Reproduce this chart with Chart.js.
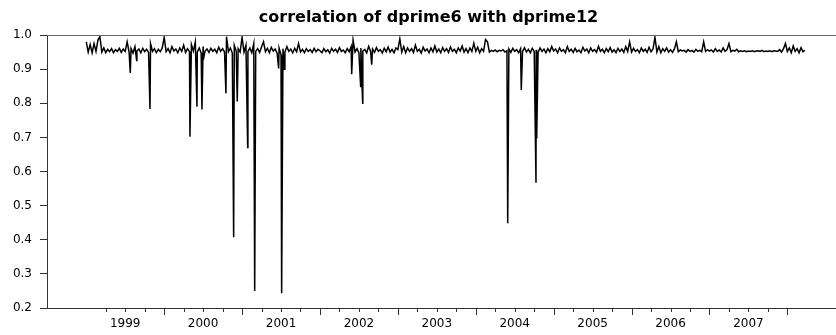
<!DOCTYPE html>
<html>
<head>
<meta charset="utf-8">
<title>correlation of dprime6 with dprime12</title>
<script src="https://cdn.jsdelivr.net/npm/chart.js@4.4.1/dist/chart.umd.min.js"></script>
<style>
  html, body { margin: 0; padding: 0; background: #fff; }
  #wrap { width: 836px; height: 335px; }
</style>
</head>
<body>
<div id="wrap"><canvas id="corr-chart" width="836" height="335"></canvas></div>
<script>
// correlation band, one value per 0.025 year
const bandStep = 0.025;
const band1999 = [0.980,0.950,0.972,0.948,0.975,0.952,0.985,0.995,0.950,0.962,0.948,0.958,0.951,0.960,0.948,0.957,0.952,0.961,0.949,0.959,0.952,0.980,0.950,0.960,0.947,0.966,0.953,0.959,0.948,0.961,0.951,0.958,0.949,0.975,0.952,0.960,0.948,0.958,0.951,0.962];
const band2000 = [0.993,0.951,0.960,0.948,0.966,0.953,0.959,0.948,0.962,0.952,0.970,0.949,0.960,0.951,0.972,0.953,0.980,0.950,0.962,0.947,0.966,0.953,0.959,0.949,0.961,0.952,0.958,0.948,0.964,0.952,0.960,0.950,0.995,0.951,0.962,0.947,0.970,0.953,0.960,0.950];
const band2001 = [0.993,0.950,0.970,0.951,0.962,0.948,0.975,0.952,0.960,0.949,0.965,0.980,0.951,0.961,0.948,0.964,0.953,0.959,0.947,0.962,0.942,0.960,0.950,0.966,0.952,0.959,0.948,0.961,0.951,0.975,0.950,0.958,0.948,0.960,0.952,0.957,0.949,0.961,0.951,0.958];
const band2002 = [0.954,0.948,0.960,0.951,0.957,0.947,0.961,0.952,0.958,0.949,0.963,0.952,0.956,0.948,0.960,0.951,0.966,0.985,0.950,0.960,0.948,0.962,0.953,0.958,0.948,0.967,0.952,0.959,0.949,0.963,0.952,0.957,0.947,0.961,0.951,0.965,0.950,0.958,0.948,0.962];
const band2003 = [0.957,0.989,0.950,0.966,0.948,0.962,0.952,0.960,0.949,0.970,0.952,0.958,0.947,0.964,0.953,0.959,0.948,0.962,0.951,0.968,0.950,0.959,0.948,0.963,0.952,0.960,0.949,0.965,0.952,0.958,0.948,0.962,0.953,0.968,0.950,0.960,0.948,0.962,0.952,0.976];
const band2004 = [0.952,0.964,0.948,0.960,0.952,0.987,0.980,0.950,0.955,0.952,0.956,0.951,0.955,0.953,0.957,0.950,0.954,0.959,0.949,0.961,0.952,0.957,0.948,0.960,0.952,0.963,0.950,0.958,0.948,0.961,0.952,0.957,0.949,0.962,0.952,0.959,0.948,0.960,0.951,0.966];
const band2005 = [0.953,0.959,0.948,0.962,0.952,0.957,0.948,0.966,0.952,0.958,0.949,0.961,0.951,0.956,0.948,0.964,0.953,0.959,0.948,0.962,0.952,0.957,0.949,0.967,0.952,0.958,0.948,0.960,0.951,0.963,0.950,0.957,0.948,0.961,0.952,0.959,0.949,0.966,0.952,0.980];
const band2006 = [0.950,0.961,0.952,0.957,0.948,0.962,0.952,0.958,0.949,0.964,0.951,0.959,0.993,0.950,0.966,0.948,0.960,0.952,0.962,0.950,0.957,0.949,0.959,0.980,0.951,0.956,0.953,0.955,0.950,0.957,0.952,0.955,0.950,0.958,0.952,0.955,0.951,0.980,0.952,0.957];
const band2007 = [0.953,0.956,0.950,0.960,0.952,0.956,0.950,0.962,0.952,0.957,0.975,0.951,0.955,0.953,0.958,0.951,0.954,0.952,0.954,0.951,0.953,0.952,0.954,0.951,0.953,0.954,0.952,0.955,0.951,0.953,0.952,0.954,0.951,0.954,0.953,0.952,0.957,0.950,0.960,0.975];
const band2008 = [0.952,0.962,0.948,0.968,0.952,0.960,0.948,0.963,0.951,0.955];

// downward spikes
const spikeYears  = [1999.565,1999.647,1999.818,2000.331,2000.421,2000.485,2000.502,2000.793,2000.892,2000.938,2001.072,2001.162,2001.470,2001.508,2001.542,2002.407,2002.522,2002.548,2002.664,2004.410,2004.584,2004.773,2004.782];
const spikeValues = [0.889,0.925,0.783,0.702,0.790,0.782,0.927,0.829,0.407,0.805,0.670,0.250,0.902,0.243,0.900,0.885,0.849,0.800,0.913,0.448,0.839,0.567,0.697];

const yearLabels = ["1999","2000","2001","2002","2003","2004","2005","2006","2007"];
const yTickLabels = ["0.2","0.3","0.4","0.5","0.6","0.7","0.8","0.9","1.0"];
const chartTitle = "correlation of dprime6 with dprime12";

const bands = [
  [1999, band1999], [2000, band2000], [2001, band2001], [2002, band2002],
  [2003, band2003], [2004, band2004], [2005, band2005], [2006, band2006],
  [2007, band2007], [2008, band2008],
];

function buildPoints() {
  const pts = [];
  for (const [yr, vals] of bands) {
    vals.forEach((v, i) => pts.push({ x: yr + i * bandStep, y: v }));
  }
  spikeYears.forEach((x, i) => pts.push({ x, y: spikeValues[i] }));
  pts.sort((a, b) => a.x - b.x);
  return pts;
}

const FONT = "'DejaVu Sans', Verdana, sans-serif";
const AXIS = "#333";

// quarter ticks under the x axis (long at year boundaries), top frame line, title
const decorations = {
  id: "decorations",
  afterDraw(chart) {
    const sx = chart.scales.x;
    const ctx = chart.ctx;
    const a = chart.chartArea;
    const y0 = Math.round(a.bottom);
    ctx.save();
    ctx.strokeStyle = AXIS;
    ctx.lineWidth = 1;
    for (let yr = 1999; yr <= 2008; yr++) {
      for (let q = 0; q < 4; q++) {
        const v = yr + q * 0.25;
        if (v < 1999.25 || v > 2008) continue;
        const px = Math.round(sx.getPixelForValue(v)) + 0.5;
        const len = q === 0 ? 7 : 4;
        ctx.beginPath();
        ctx.moveTo(px, y0);
        ctx.lineTo(px, y0 + len);
        ctx.stroke();
      }
    }
    ctx.strokeStyle = "#666";
    ctx.beginPath();
    ctx.moveTo(a.left, Math.round(a.top) + 0.5);
    ctx.lineTo(a.right, Math.round(a.top) + 0.5);
    ctx.stroke();

    ctx.fillStyle = "#000";
    ctx.font = "bold 16px " + FONT;
    ctx.textAlign = "center";
    ctx.textBaseline = "middle";
    ctx.fillText(chartTitle, 428.5, 18);
    ctx.restore();
  },
};

new Chart(document.getElementById("corr-chart"), {
  type: "line",
  data: {
    datasets: [
      {
        label: "correlation",
        data: buildPoints(),
        borderColor: "#000",
        borderWidth: 1.5,
        pointRadius: 0,
        tension: 0,
        fill: false,
      },
    ],
  },
  options: {
    responsive: false,
    animation: false,
    layout: { padding: { left: 0, right: 0, top: 35, bottom: 0 } },
    plugins: {
      legend: { display: false },
      tooltip: { enabled: false },
      title: { display: false },
    },
    scales: {
      x: {
        type: "linear",
        min: 1998.496,
        max: 2008.624,
        afterBuildTicks(scale) {
          scale.ticks = yearLabels.map((y) => ({ value: Number(y) + 0.5 }));
        },
        afterFit(scale) {
          scale.height = 27;
        },
        ticks: {
          autoSkip: false,
          maxRotation: 0,
          padding: 9,
          color: "#000",
          font: { family: FONT, size: 12 },
          callback: (v) => String(Math.floor(v)),
        },
        grid: { display: false, drawTicks: false },
        border: { display: true, color: AXIS },
      },
      y: {
        min: 0.2,
        max: 1.0,
        afterBuildTicks(scale) {
          scale.ticks = yTickLabels.map((t) => ({ value: Number(t) }));
        },
        afterFit(scale) {
          scale.width = 47;
        },
        ticks: {
          padding: 8,
          color: "#000",
          font: { family: FONT, size: 12 },
          callback: (v) => Number(v).toFixed(1),
        },
        grid: { drawOnChartArea: false, drawTicks: true, tickLength: 7, color: AXIS },
        border: { display: true, color: AXIS },
      },
    },
  },
  plugins: [decorations],
});
</script>
</body>
</html>
